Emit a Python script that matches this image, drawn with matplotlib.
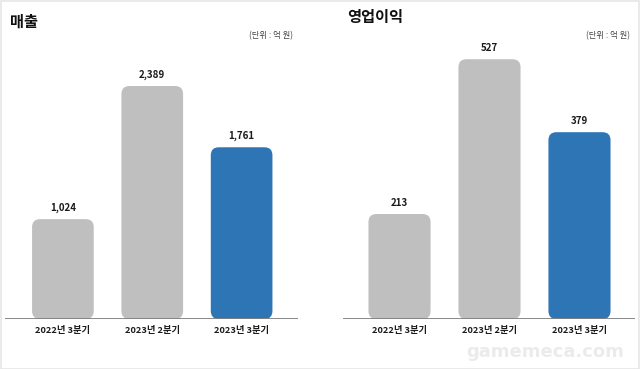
import matplotlib
matplotlib.use("Agg")
import matplotlib.pyplot as plt
from matplotlib.patches import FancyBboxPatch, Rectangle

plt.rcParams['font.family'] = ['Noto Sans CJK KR', 'DejaVu Sans']

categories = ["2022년 3분기", "2023년 2분기", "2023년 3분기"]
sales = [1024, 2389, 1761]
op_income = [213, 527, 379]
titles = ["매출", "영업이익"]
unit_label = "(단위 : 억 원)"
bar_colors = ["#bfbfbf", "#bfbfbf", "#2e75b6"]

W, H = 640, 369
fig = plt.figure(figsize=(W / 100, H / 100), dpi=100)
fig.patch.set_facecolor("white")
fig.patches.append(Rectangle((0.5 / W, 0.5 / H), 1 - 1.5 / W, 1 - 1.5 / H,
                             transform=fig.transFigure, fill=False,
                             edgecolor="#e6e6e6", linewidth=1.2))

def px_axes(x0, x1, ytop, ybase):
    return fig.add_axes([x0 / W, (H - ybase) / H, (x1 - x0) / W, (ybase - ytop) / H])

panels = [
    dict(vals=sales, x0=5, x1=298, xlim=(-0.648, 2.631), ymax=2861,
         title=titles[0], tx=10, ty=22, ux=293, fmt="{:,}"),
    dict(vals=op_income, x0=343, x1=635, xlim=(-0.628, 2.617), ymax=566,
         title=titles[1], tx=347, ty=17, ux=630, fmt="{:,}"),
]

ytop, ybase = 40, 319
for p in panels:
    ax = px_axes(p["x0"], p["x1"], ytop, ybase)
    ax.set_xlim(*p["xlim"])
    ax.set_ylim(0, p["ymax"])
    ax.axis("off")
    wpx = p["x1"] - p["x0"]
    hpx = ybase - ytop
    px_per_x = wpx / (p["xlim"][1] - p["xlim"][0])
    px_per_y = hpx / p["ymax"]
    aspect = px_per_x / px_per_y
    bw = 0.69
    r = 8 / px_per_x
    for i, v in enumerate(p["vals"]):
        patch = FancyBboxPatch((i - bw / 2, 0), bw, v,
                               boxstyle=f"round,pad=0,rounding_size={r}",
                               mutation_aspect=aspect,
                               facecolor=bar_colors[i], edgecolor="none", zorder=2)
        ax.add_patch(patch)
        ax.annotate(p["fmt"].format(v), (i, v), xytext=(0, 6), textcoords="offset pixels",
                    ha="center", va="bottom", fontsize=7, fontweight="bold", color="#1a1a1a")
        ax.annotate(categories[i], (i, 0), xytext=(0, -7), textcoords="offset pixels",
                    ha="center", va="top", fontsize=6.7, fontweight="bold", color="#1a1a1a",
                    annotation_clip=False)
    ax.axhline(0, color="#7f7f7f", linewidth=1.3, zorder=3)
    fig.text(p["tx"] / W, 1 - p["ty"] / H, p["title"], ha="left", va="center",
             fontsize=11, fontweight="bold", color="#111111")
    fig.text(p["ux"] / W, 1 - 36 / H, unit_label, ha="right", va="center",
             fontsize=6, color="#444444")

fig.text(545 / W, 1 - 352 / H, "gamemeca.com", ha="center", va="center",
         fontsize=13, fontweight="bold", color="#ebebeb", family="DejaVu Sans")

fig.savefig("out.png", dpi=100, facecolor="white")
